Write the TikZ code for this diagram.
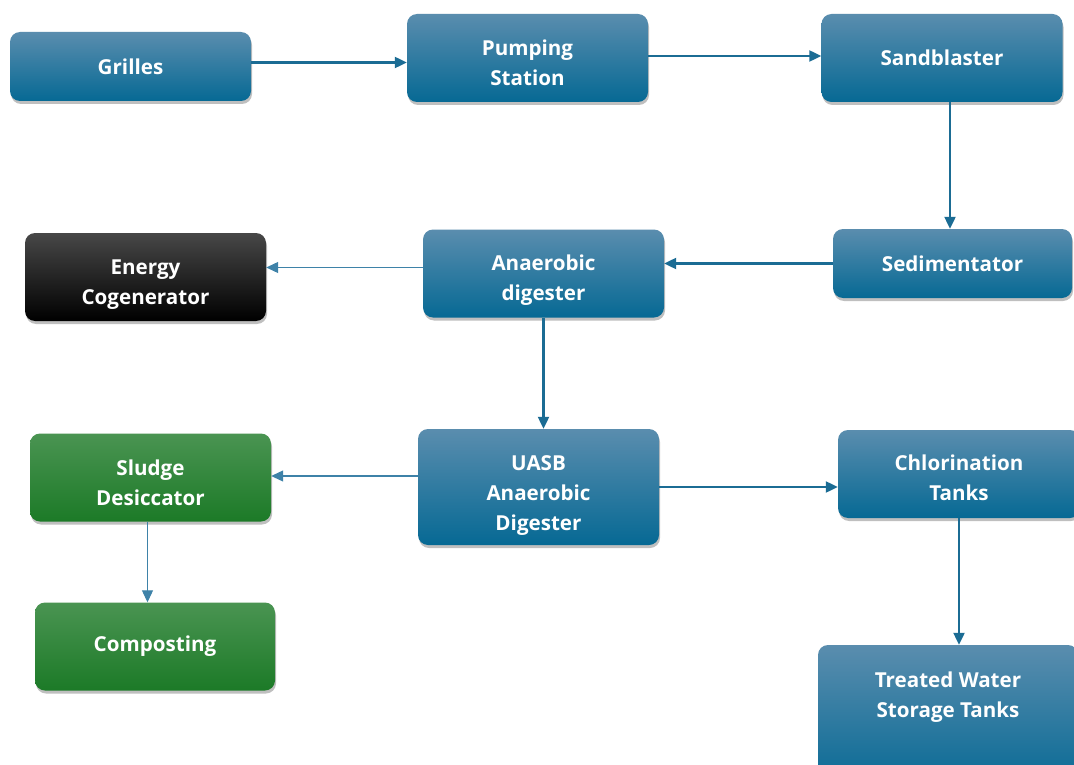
\documentclass[tikz,border=0pt]{standalone}
\usepackage{fontspec}
\setmainfont{Open Sans}
\usetikzlibrary{arrows.meta,shadows,calc}
\definecolor{btop}{HTML}{5A8DAE}
\definecolor{bmid}{HTML}{1E7299}
\definecolor{bbot}{HTML}{066994}
\definecolor{gtop}{HTML}{4A9452}
\definecolor{gmid}{HTML}{28802F}
\definecolor{gbot}{HTML}{1C7A27}
\definecolor{arr}{HTML}{1B6C94}
\definecolor{arrthin}{HTML}{3E82A8}
\newcommand\tstrut{\rule{0pt}{29pt}}
\tikzset{
  box/.style={rectangle, rounded corners=10pt, draw=none, text=white,
    font=\fontsize{20.6}{30}\selectfont\bfseries, align=center,
    minimum width=241pt, minimum height=88pt, inner sep=2pt,
    drop shadow={shadow xshift=1pt, shadow yshift=-3pt, opacity=0.25, fill=black}},
  bluebox/.style={box, top color=btop, middle color=bmid, bottom color=bbot},
  greenbox/.style={box, top color=gtop, middle color=gmid, bottom color=gbot},
  blackbox/.style={box, top color=black!72, middle color=black!95, bottom color=black},
  thick arrow/.style={draw=arr, line width=2.2pt, -{Triangle[length=12pt,width=11pt]}},
  thin arrow/.style={draw=arrthin, line width=1.1pt, -{Triangle[length=12pt,width=11pt]}},
}
\begin{document}
\begin{tikzpicture}[x=1pt,y=-1pt]
\useasboundingbox (0,0) rectangle (1074,765);
\fill[white] (0,0) rectangle (1074,765);
\node[bluebox, minimum height=69pt] (grilles) at (130.5,66.5) {Grilles};
\node[bluebox] (pump) at (527.5,58) {\rule{0pt}{26pt}Pumping\\Station};
\node[bluebox] (sand) at (942,58) {Sandblaster};
\node[bluebox, minimum height=69pt, minimum width=239pt] (sed) at (952.5,263.5) {Sedimentator};
\node[bluebox] (ana) at (543.5,273.5) {\tstrut Anaerobic\\digester};
\node[blackbox] (energy) at (145.5,277) {\tstrut Energy\\Cogenerator};
\node[bluebox, minimum height=116pt] (uasb) at (538.5,487) {\rule{0pt}{32pt}UASB\\Anaerobic\\Digester};
\node[greenbox] (sludge) at (150.5,477.5) {\rule{0pt}{26pt}Sludge\\Desiccator};
\node[bluebox, minimum width=242pt] (chl) at (959,474) {\rule{0pt}{24pt}Chlorination\\Tanks};
\node[greenbox, minimum width=240pt] (comp) at (155,646.5) {Composting};
\node[bluebox, minimum width=260pt, minimum height=145pt] (treated) at (948,717.5) {Treated Water\\Storage Tanks\\[16pt]\mbox{}};

\draw[thick arrow] ([yshift=4pt]grilles.east) -- ([yshift=4pt]grilles.east -| pump.west);
\draw[thick arrow] ([yshift=2pt]pump.east) -- ([yshift=2pt]pump.east -| sand.west);
\draw[thick arrow] ([xshift=8pt]sand.south) -- ([xshift=8pt]sand.south |- sed.north);
\draw[thick arrow] (sed.west) -- (sed.west -| ana.east);
\draw[thin arrow] ([yshift=6pt]ana.west) -- ([yshift=6pt]ana.west -| energy.east);
\draw[thick arrow] (ana.south) -- (ana.south |- uasb.north);
\draw[thin arrow] ([yshift=11pt]uasb.west) -- ([yshift=11pt]uasb.west -| sludge.east);
\draw[thick arrow] (uasb.east) -- (uasb.east -| chl.west);
\draw[thick arrow] (chl.south) -- (chl.south |- treated.north);
\draw[thin arrow] ([xshift=-3pt]sludge.south) -- ([xshift=-3pt]sludge.south |- comp.north);
\end{tikzpicture}
\end{document}
